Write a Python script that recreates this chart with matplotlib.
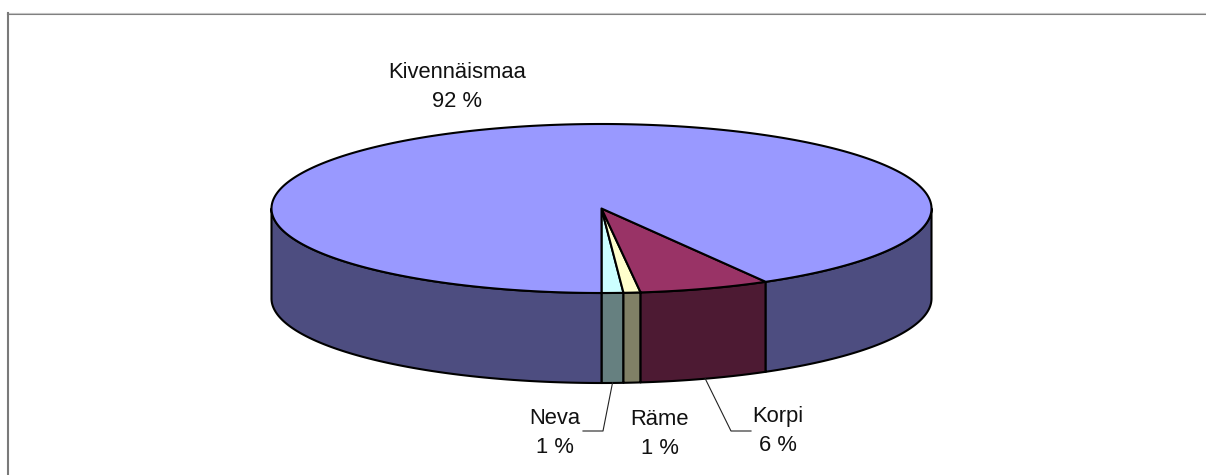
import numpy as np
import matplotlib
matplotlib.use('Agg')
import matplotlib.pyplot as plt
from matplotlib.patches import Polygon

# shares in drawing order, starting from straight down and going to the right
names = ['Neva', 'Räme', 'Korpi', 'Kivennäismaa']
values = [1.06, 0.83, 6.4, 91.71]
labels = ['1 %', '1 %', '6 %', '92 %']
top_colors = ['#CCFFFF', '#FFFFCC', '#993366', '#9999FF']
side_colors = ['#668080', '#808066', '#4D1A33', '#4D4D80']
label_pos = [(555, 433), (660, 434), (778, 431), (457, 87)]
elbow = [(603, 431, 583), None, (731, 431, 751), None]

cx, cy = 601.5, 208.5
rx, ry = 330.0, 84.5
depth = 90.0

plt.rcParams['font.family'] = ['Liberation Sans', 'DejaVu Sans']

fig = plt.figure(figsize=(12.06, 4.75), dpi=100)
ax = fig.add_axes([0, 0, 1, 1])
ax.set_xlim(0, 1206)
ax.set_ylim(475, 0)
ax.axis('off')


def rim(t, dy=0.0):
    return np.column_stack([cx + rx * np.sin(t), cy + ry * np.cos(t) + dy])


# outer frame, only top and left show in the picture
ax.plot([7, 1206], [13, 13], color='#C8C8C8', lw=0.8, zorder=1)
ax.plot([7, 1206], [14, 14], color='#808080', lw=0.8, zorder=1)
ax.plot([7.5, 7.5], [13, 475], color='#7A7A7A', lw=1.5, zorder=1)

edges = np.cumsum([0] + values) / sum(values) * 2 * np.pi

# sides, only the front half of the ellipse can be seen
for i in range(len(values)):
    a, b = edges[i], edges[i + 1]
    parts = [(a, min(b, np.pi / 2))] if a < np.pi / 2 else []
    if b > 1.5 * np.pi:
        parts.append((max(a, 1.5 * np.pi), b))
    for p0, p1 in parts:
        t = np.linspace(p0, p1, 200)
        pts = np.vstack([rim(t), rim(t[::-1], depth)])
        ax.add_patch(Polygon(pts, closed=True, fc=side_colors[i], ec='black',
                             lw=1.5, joinstyle='round', zorder=2))

# top face
for i in range(len(values)):
    t = np.linspace(edges[i], edges[i + 1], 400)
    pts = np.vstack([[cx, cy], rim(t)])
    ax.add_patch(Polygon(pts, closed=True, fc=top_colors[i], ec='black',
                         lw=1.5, joinstyle='round', zorder=3))

# labels and leader lines
for i in range(len(values)):
    x, y = label_pos[i]
    ax.text(x, y, names[i] + '\n' + labels[i], ha='center', va='center',
            fontsize=15.8, linespacing=1.5, color='#111111', zorder=5)
    if elbow[i] is not None:
        mid = (edges[i] + edges[i + 1]) / 2
        start = rim(np.array([mid]), depth)[0]
        ex, ey, endx = elbow[i]
        ax.plot([start[0], ex, endx], [start[1], ey, ey], color='#222222',
                lw=0.8, zorder=4)

fig.savefig('out.png', dpi=100, facecolor='white')
